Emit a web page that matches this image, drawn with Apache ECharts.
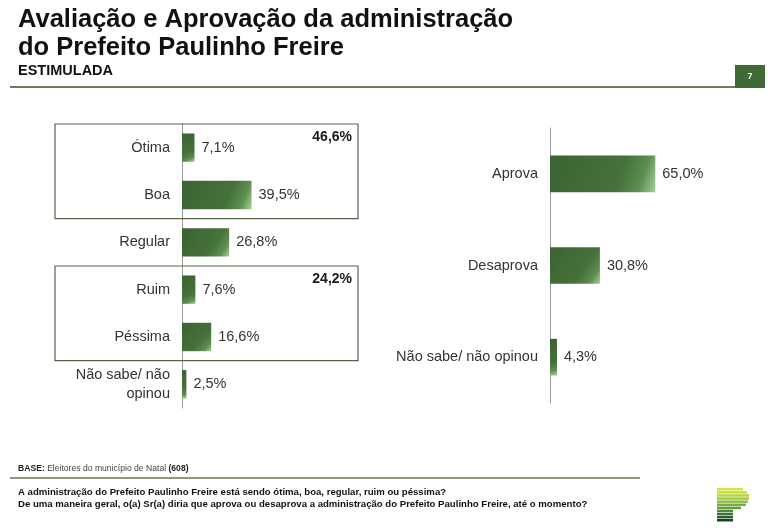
<!DOCTYPE html>
<html>
<head>
<meta charset="utf-8">
<script src="https://cdn.jsdelivr.net/npm/echarts@6/dist/echarts.min.js"></script>
<style>
  html, body { margin: 0; padding: 0; background: #fff; }
  #chart { width: 772px; height: 528px; }
</style>
</head>
<body>
<div id="chart"></div>
<script>
// avaliação (esquerda)
var avalCats = ['Ótima', 'Boa', 'Regular', 'Ruim', 'Péssima', 'Não sabe/ não\nopinou'];
var avalVals = [7.1, 39.5, 26.8, 7.6, 16.6, 2.5];
// totais dos grupos (ótima+boa, ruim+péssima)
var groupTotals = ['46,6%', '24,2%'];
var groupRanges = [[0, 1], [3, 4]];
// aprovação (direita)
var aprovCats = ['Aprova', 'Desaprova', 'Não sabe/ não opinou'];
var aprovVals = [65.0, 30.8, 4.3];

var FONT = '"Liberation Sans", Arial, sans-serif';

// layout dos grids
var g1 = { left: 182, top: 124, width: 176, height: 284 };
var g2 = { left: 550, top: 128, width: 162, height: 275 };

var barColor = new echarts.graphic.LinearGradient(0, 0, 1, 1, [
  { offset: 0, color: '#3c6332' },
  { offset: 0.65, color: '#45713b' },
  { offset: 0.85, color: '#5e8e52' },
  { offset: 1, color: '#a6d096' }
]);

function pct(p) {
  return p.value.toFixed(1).replace('.', ',') + '%';
}

var myChart = echarts.init(document.getElementById('chart'));

// caixas dos grupos e totais
var band = g1.height / avalCats.length;
var boxes = [];
groupRanges.forEach(function (r, i) {
  var y0 = g1.top + r[0] * band;
  var y1 = g1.top + (r[1] + 1) * band;
  boxes.push({
    type: 'rect', shape: { x: 55, y: y0, width: 303, height: y1 - y0 },
    style: { fill: 'none', stroke: '#56664c', lineWidth: 1.2 }, z: 1
  });
  boxes.push({
    type: 'text', x: 352, y: y0 + 13,
    style: { text: groupTotals[i], font: 'bold 14px ' + FONT, fill: '#1a1a1a', textAlign: 'right', textVerticalAlign: 'middle' }
  });
});

// logo (listras)
var logoRows = [[717, 743], [717, 747], [717, 749], [717, 749], [717, 748], [717, 746], [717, 741], [717, 733], [717, 733], [717, 733], [717, 733]];
var logoColors = ['#d6e43c', '#c8de40', '#b6d444', '#a2c846', '#8ebc46', '#7aae44', '#639c40', '#4c883a', '#3a7232', '#2c5c2a', '#1d4322'];
var logo = logoRows.map(function (r, i) {
  return {
    type: 'rect', shape: { x: r[0], y: 488 + i * 3.1, width: r[1] - r[0], height: 2.5 },
    style: { fill: logoColors[i] }
  };
});

var graphics = [
  { type: 'text', x: 18, y: 7, style: { text: 'Avaliação e Aprovação da administração', font: 'bold 25.5px ' + FONT, fill: '#111' } },
  { type: 'text', x: 18, y: 35, style: { text: 'do Prefeito Paulinho Freire', font: 'bold 25.5px ' + FONT, fill: '#111' } },
  { type: 'text', x: 18, y: 63, style: { text: 'ESTIMULADA', font: 'bold 14.5px ' + FONT, fill: '#111' } },
  { type: 'line', shape: { x1: 10, y1: 87, x2: 736, y2: 87 }, style: { stroke: '#6c7c5e', lineWidth: 2 } },
  { type: 'rect', shape: { x: 735, y: 65, width: 30, height: 23 }, style: { fill: '#3e6a36' } },
  { type: 'text', x: 750, y: 77, style: { text: '7', font: 'bold 9px ' + FONT, fill: '#fff', textAlign: 'center', textVerticalAlign: 'middle' } },
  { type: 'text', x: 18, y: 464, style: { text: '{b|BASE:} Eleitores do município de Natal {b|(608)}', font: '8.6px ' + FONT, fill: '#444', rich: { b: { fontWeight: 'bold', fontSize: 8.6, fontFamily: FONT, fill: '#222' } } } },
  { type: 'line', shape: { x1: 10, y1: 478, x2: 640, y2: 478 }, style: { stroke: '#8c9a7c', lineWidth: 2 } },
  { type: 'text', x: 18, y: 487, style: { text: 'A administração do Prefeito Paulinho Freire está sendo ótima, boa, regular, ruim ou péssima?', font: 'bold 9.6px ' + FONT, fill: '#111' } },
  { type: 'text', x: 18, y: 499, style: { text: 'De uma maneira geral, o(a) Sr(a) diria que aprova ou desaprova a administração do Prefeito Paulinho Freire, até o momento?', font: 'bold 9.6px ' + FONT, fill: '#111' } }
].concat(boxes, logo);

var catAxisStyle = {
  type: 'category',
  inverse: true,
  axisLine: { lineStyle: { color: '#9a9a9a', width: 1 } },
  axisTick: { length: 4, lineStyle: { color: '#8a8a8a' } },
  axisLabel: { color: '#333', fontSize: 14.5, fontFamily: FONT, margin: 12, lineHeight: 19 }
};

myChart.setOption({
  animation: false,
  backgroundColor: '#fff',
  grid: [
    { left: g1.left, top: g1.top, width: g1.width, height: g1.height },
    { left: g2.left, top: g2.top, width: g2.width, height: g2.height }
  ],
  xAxis: [
    { type: 'value', gridIndex: 0, min: 0, max: 100, show: false },
    { type: 'value', gridIndex: 1, min: 0, max: 100, show: false }
  ],
  yAxis: [
    Object.assign({}, catAxisStyle, { gridIndex: 0, data: avalCats }),
    Object.assign({}, catAxisStyle, { gridIndex: 1, data: aprovCats })
  ],
  series: [
    {
      type: 'bar', xAxisIndex: 0, yAxisIndex: 0, data: avalVals,
      barWidth: '60%', itemStyle: { color: barColor },
      label: { show: true, position: 'right', distance: 7, formatter: pct, color: '#333', fontSize: 14.5, fontFamily: FONT }
    },
    {
      type: 'bar', xAxisIndex: 1, yAxisIndex: 1, data: aprovVals,
      barWidth: '40%', itemStyle: { color: barColor },
      label: { show: true, position: 'right', distance: 7, formatter: pct, color: '#333', fontSize: 14.5, fontFamily: FONT }
    }
  ],
  graphic: graphics
});

window.addEventListener('resize', function () {
  myChart.resize();
});
</script>
</body>
</html>
